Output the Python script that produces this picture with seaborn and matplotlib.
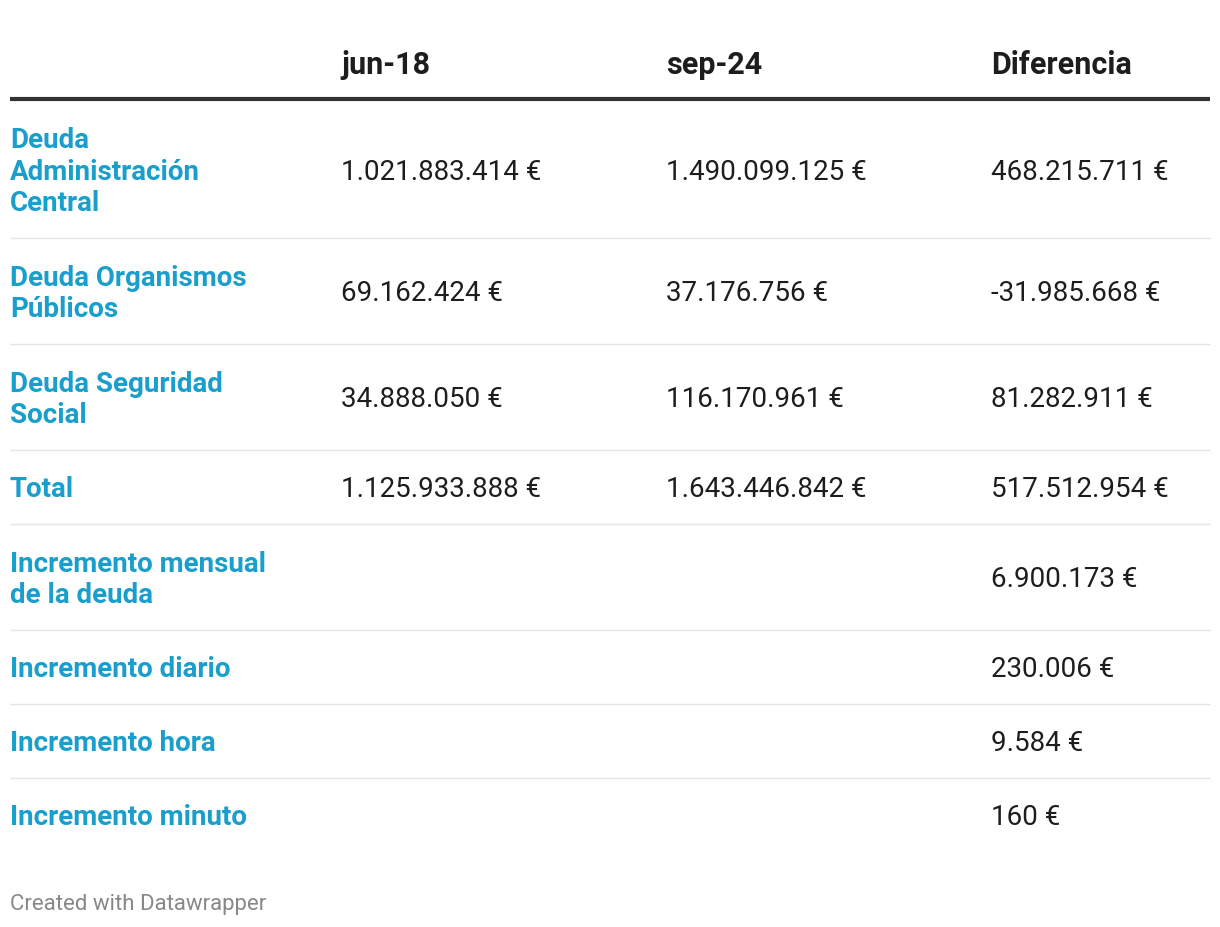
import matplotlib
matplotlib.use("Agg")
import matplotlib.pyplot as plt
import seaborn as sns

# Table content
COLUMNS = ["jun-18", "sep-24", "Diferencia"]
ROW_LABELS = [
    "Deuda\nAdministración\nCentral",
    "Deuda Organismos\nPúblicos",
    "Deuda Seguridad\nSocial",
    "Total",
    "Incremento mensual\nde la deuda",
    "Incremento diario",
    "Incremento hora",
    "Incremento minuto",
]
JUN_18 = ["1.021.883.414 €", "69.162.424 €", "34.888.050 €", "1.125.933.888 €", "", "", "", ""]
SEP_24 = ["1.490.099.125 €", "37.176.756 €", "116.170.961 €", "1.643.446.842 €", "", "", "", ""]
DIFERENCIA = ["468.215.711 €", "-31.985.668 €", "81.282.911 €", "517.512.954 €",
              "6.900.173 €", "230.006 €", "9.584 €", "160 €"]
FOOTER = "Created with Datawrapper"

# Layout (pixels)
W, H = 1220, 928
COL_X = [10, 341, 666, 991]
ROW_Y = [172, 294, 400, 490, 580, 670, 744, 818]
SEP_Y = [239, 345, 451, 525, 631, 705, 779]
BLUE = "#1a9fcc"
DARK = "#1d1d1d"

sns.set_theme(style="white")
plt.rcParams["font.family"] = ["Roboto", "DejaVu Sans"]

fig = plt.figure(figsize=(W / 100, H / 100), dpi=100)
ax = fig.add_axes([0, 0, 1, 1])
ax.set_xlim(0, W)
ax.set_ylim(H, 0)
ax.axis("off")

# header
for x, name in zip(COL_X[1:], COLUMNS):
    ax.text(x, 65, name, fontsize=22, fontweight="bold", color=DARK, va="center", ha="left")
ax.hlines(100, 10, 1210, color="#333333", linewidth=3)

# row separators
ax.hlines(SEP_Y, 10, 1210, color="#e5e5e5", linewidth=1)

# rows
for i, y in enumerate(ROW_Y):
    ax.text(COL_X[0], y, ROW_LABELS[i], fontsize=20, fontweight="bold", color=BLUE,
            va="center", ha="left", linespacing=1.23)
    for x, vals in zip(COL_X[1:], [JUN_18, SEP_24, DIFERENCIA]):
        ax.text(x, y, vals[i], fontsize=20, color=DARK, va="center", ha="left")

ax.text(10, 905, FOOTER, fontsize=16, color="#888888", va="center", ha="left")

fig.savefig("out.png", dpi=100)
